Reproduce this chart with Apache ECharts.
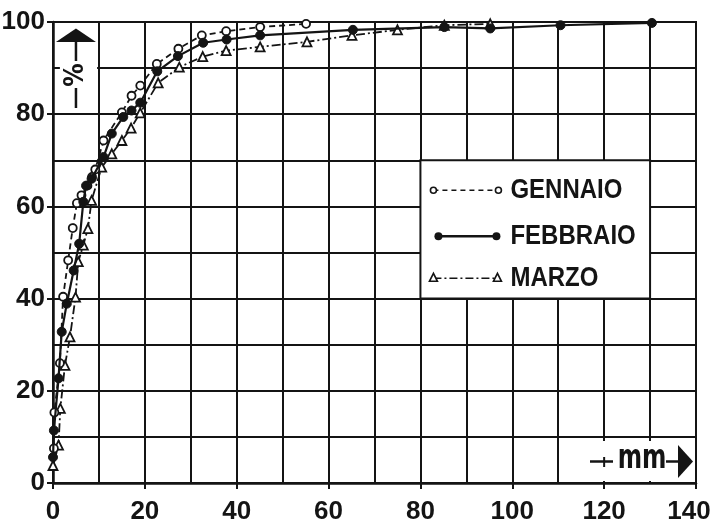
<!DOCTYPE html>
<html>
<head>
<meta charset="utf-8">
<script src="https://cdn.jsdelivr.net/npm/echarts@6/dist/echarts.min.js"></script>
<style>
  html, body { margin: 0; padding: 0; background: #fff; }
  #chart { width: 710px; height: 526px; }
</style>
</head>
<body>
<div id="chart"></div>
<script>
// Cumulative distribution of daily precipitation (mm) — percentage of days
const seriesNames = ['GENNAIO', 'FEBBRAIO', 'MARZO'];

const gennaioMm  = [0.2, 0.3, 1.5, 2.2, 3.3, 4.3, 5.2, 6.2, 7.5, 8.5, 9.2, 11, 15, 17.1, 19, 22.6, 27.3, 32.4, 37.7, 45.1, 55.1];
const gennaioPct = [7.5, 15.3, 26, 40.4, 48.3, 55.3, 60.7, 62.4, 64.5, 66.4, 68, 74.3, 80.4, 84, 86.2, 90.9, 94.2, 97.1, 98.0, 98.9, 99.6];

const febbraioMm  = [0, 0.2, 1.2, 1.9, 3, 4.5, 5.7, 6.6, 7.2, 8.4, 11, 12.8, 15.3, 17.1, 19, 22.7, 27.2, 32.7, 37.8, 45.1, 65.3, 85.2, 95.2, 110.5, 130.4];
const febbraioPct = [5.6, 11.4, 22.7, 32.8, 38.9, 46.1, 51.9, 61, 64.5, 66, 70.7, 75.8, 79.4, 80.8, 82.5, 89.3, 92.6, 95.5, 96.2, 97.1, 98.3, 98.9, 98.6, 99.3, 99.8];

const marzoMm  = [0, 1.2, 1.6, 2.6, 3.7, 4.9, 5.5, 6.6, 7.6, 8.4, 10.6, 12.8, 15, 17, 19, 22.9, 27.5, 32.6, 37.7, 45.1, 55.3, 65.1, 75, 85.2, 95.2];
const marzoPct = [3.8, 8.2, 16.2, 25.5, 31.7, 40.3, 48, 51.6, 55.2, 61.3, 68.5, 71.4, 74.3, 77, 80.3, 86.8, 90.2, 92.5, 93.8, 94.6, 95.7, 97.1, 98.3, 99.3, 99.6];

const xTicks = [0, 20, 40, 60, 80, 100, 120, 140];
const yTicks = [0, 20, 40, 60, 80, 100];

const INK = '#141414';
const FONT = '"Liberation Sans", Arial, sans-serif';
const FONT_C = '"DejaVu Sans Condensed", "Liberation Sans", sans-serif';

function pairs(xs, ys) { return xs.map((x, i) => [x, ys[i]]); }

const chart = echarts.init(document.getElementById('chart'), null, { renderer: 'canvas' });

const axisCommon = {
  axisLine: { show: true, onZero: false, lineStyle: { color: INK, width: 2.5 } },
  axisTick: { show: true, length: 6, lineStyle: { color: INK, width: 2 } },
  splitLine: { show: true, lineStyle: { color: INK, width: 2 } },
  minorTick: { show: false, splitNumber: 2 },
  minorSplitLine: { show: true, lineStyle: { color: INK, width: 2 } },
  axisLabel: { color: INK, fontFamily: FONT, fontWeight: 'bold', fontSize: 26, hideOverlap: false }
};

chart.setOption({
  backgroundColor: '#fff',
  animation: false,
  grid: {
    left: 53, right: 14, top: 22, bottom: 43,
    outerBoundsMode: 'none', containLabel: false,
    show: true, borderColor: INK, borderWidth: 2, backgroundColor: 'transparent'
  },
  xAxis: Object.assign({}, axisCommon, {
    type: 'value', min: xTicks[0], max: xTicks[xTicks.length - 1], interval: 20,
    axisLabel: Object.assign({}, axisCommon.axisLabel, {
      margin: 16,
      formatter: v => (v === xTicks[xTicks.length - 1] ? '{last|' + v + '}' : String(v)),
      rich: { last: { fontFamily: FONT, fontWeight: 'bold', fontSize: 26, color: INK, padding: [0, 14, 0, 0] } }
    })
  }),
  yAxis: Object.assign({}, axisCommon, {
    type: 'value', min: yTicks[0], max: yTicks[yTicks.length - 1], interval: 20,
    axisLabel: Object.assign({}, axisCommon.axisLabel, { margin: 8 })
  }),
  series: [
    {
      name: seriesNames[0], type: 'line', data: pairs(gennaioMm, gennaioPct),
      symbol: 'circle', symbolSize: 8,
      itemStyle: { color: '#fff', borderColor: INK, borderWidth: 1.8 },
      lineStyle: { color: INK, width: 1.8, type: [6, 4] }, z: 3
    },
    {
      name: seriesNames[1], type: 'line', data: pairs(febbraioMm, febbraioPct),
      symbol: 'circle', symbolSize: 9,
      itemStyle: { color: INK, borderColor: INK, borderWidth: 1 },
      lineStyle: { color: INK, width: 2.2, type: 'solid' }, z: 4
    },
    {
      name: seriesNames[2], type: 'line', data: pairs(marzoMm, marzoPct),
      symbol: 'triangle', symbolSize: [9, 9],
      itemStyle: { color: '#fff', borderColor: INK, borderWidth: 1.8 },
      lineStyle: { color: INK, width: 1.8, type: [9, 3, 2, 3] }, z: 2
    }
  ]
});

// Annotations: axis-unit arrows and the legend panel, positioned on the grid.
function px(x, y) { return chart.convertToPixel({ gridIndex: 0 }, [x, y]); }

const g = [];

// Vertical unit marker: arrow up, rotated "%", short bar
const yMark = px(5, 100);
const pBoxA = px(1.5, 99.6), pBoxB = px(9.6, 80.6);
g.push({ type: 'rect', shape: { x: pBoxA[0], y: pBoxA[1], width: pBoxB[0] - pBoxA[0], height: pBoxB[1] - pBoxA[1] }, style: { fill: '#fff' }, z: 50 });
g.push({ type: 'polygon', shape: { points: [[yMark[0], yMark[1] + 6.5], [yMark[0] - 20, yMark[1] + 20], [yMark[0] + 20, yMark[1] + 20]] }, style: { fill: INK }, z: 51 });
g.push({ type: 'line', shape: { x1: yMark[0], y1: yMark[1] + 19, x2: yMark[0], y2: yMark[1] + 39 }, style: { stroke: INK, lineWidth: 2.5 }, z: 51 });
g.push({ type: 'text', x: yMark[0], y: yMark[1] + 53, rotation: Math.PI / 2, style: { text: '%', font: 'bold 26px ' + FONT_C, fill: INK, align: 'center', verticalAlign: 'middle' }, z: 51 });
g.push({ type: 'line', shape: { x1: yMark[0], y1: yMark[1] + 66, x2: yMark[0], y2: yMark[1] + 86 }, style: { stroke: INK, lineWidth: 2.5 }, z: 51 });

// Horizontal unit marker: "— mm →"
const corner = px(140, 0);
const c120 = px(120, 0);
g.push({ type: 'rect', shape: { x: corner[0] - 112, y: corner[1] - 42, width: 110, height: 40 }, style: { fill: '#fff' }, z: 50 });
g.push({ type: 'line', shape: { x1: corner[0] - 106, y1: corner[1] - 21.5, x2: corner[0] - 83, y2: corner[1] - 21.5 }, style: { stroke: INK, lineWidth: 2.5 }, z: 51 });
g.push({ type: 'line', shape: { x1: c120[0], y1: corner[1] - 26, x2: c120[0], y2: corner[1] - 16 }, style: { stroke: INK, lineWidth: 2 }, z: 51 });
g.push({ type: 'text', x: corner[0] - 54, y: corner[1] - 24, scaleY: 1.3, style: { text: 'mm', font: 'bold 26px ' + FONT_C, fill: INK, align: 'center', verticalAlign: 'middle' }, z: 51 });
g.push({ type: 'line', shape: { x1: corner[0] - 30, y1: corner[1] - 21.5, x2: corner[0] - 16, y2: corner[1] - 21.5 }, style: { stroke: INK, lineWidth: 2.5 }, z: 51 });
g.push({ type: 'polygon', shape: { points: [[corner[0] - 3, corner[1] - 21.5], [corner[0] - 18, corner[1] - 38], [corner[0] - 18, corner[1] - 5]] }, style: { fill: INK }, z: 51 });

// Legend panel
const lA = px(80, 70), lB = px(130, 40);
g.push({ type: 'rect', shape: { x: lA[0], y: lA[1], width: lB[0] - lA[0], height: lB[1] - lA[1] }, style: { fill: '#fff', stroke: INK, lineWidth: 2 }, z: 50 });
const lx0 = lA[0];
const rows = [
  { y: lA[1] + 30, kind: 'open', dash: [5, 4], w: 1.6, x1: 13, x2: 78 },
  { y: lA[1] + 76, kind: 'filled', dash: null, w: 2.4, x1: 18, x2: 76 },
  { y: lA[1] + 118, kind: 'tri', dash: [8, 3, 2, 3], w: 1.6, x1: 13, x2: 77 }
];
rows.forEach((r, i) => {
  const xa = lx0 + r.x1, xb = lx0 + r.x2;
  g.push({ type: 'line', shape: { x1: xa, y1: r.y, x2: xb, y2: r.y }, style: { stroke: INK, lineWidth: r.w, lineDash: r.dash }, z: 51 });
  [xa, xb].forEach(xx => {
    if (r.kind === 'open') {
      g.push({ type: 'circle', shape: { cx: xx, cy: r.y, r: 3 }, style: { fill: '#fff', stroke: INK, lineWidth: 1.6 }, z: 52 });
    } else if (r.kind === 'filled') {
      g.push({ type: 'circle', shape: { cx: xx, cy: r.y, r: 4 }, style: { fill: INK }, z: 52 });
    } else {
      g.push({ type: 'polygon', shape: { points: [[xx, r.y - 5], [xx - 4, r.y + 3], [xx + 4, r.y + 3]] }, style: { fill: '#fff', stroke: INK, lineWidth: 1.6 }, z: 52 });
    }
  });
  g.push({ type: 'text', x: lx0 + 90, y: r.y, scaleY: 1.15, style: { text: seriesNames[i], font: 'bold 24px ' + FONT, fill: INK, align: 'left', verticalAlign: 'middle' }, z: 52 });
});

chart.setOption({ graphic: { elements: g } });
</script>
</body>
</html>
